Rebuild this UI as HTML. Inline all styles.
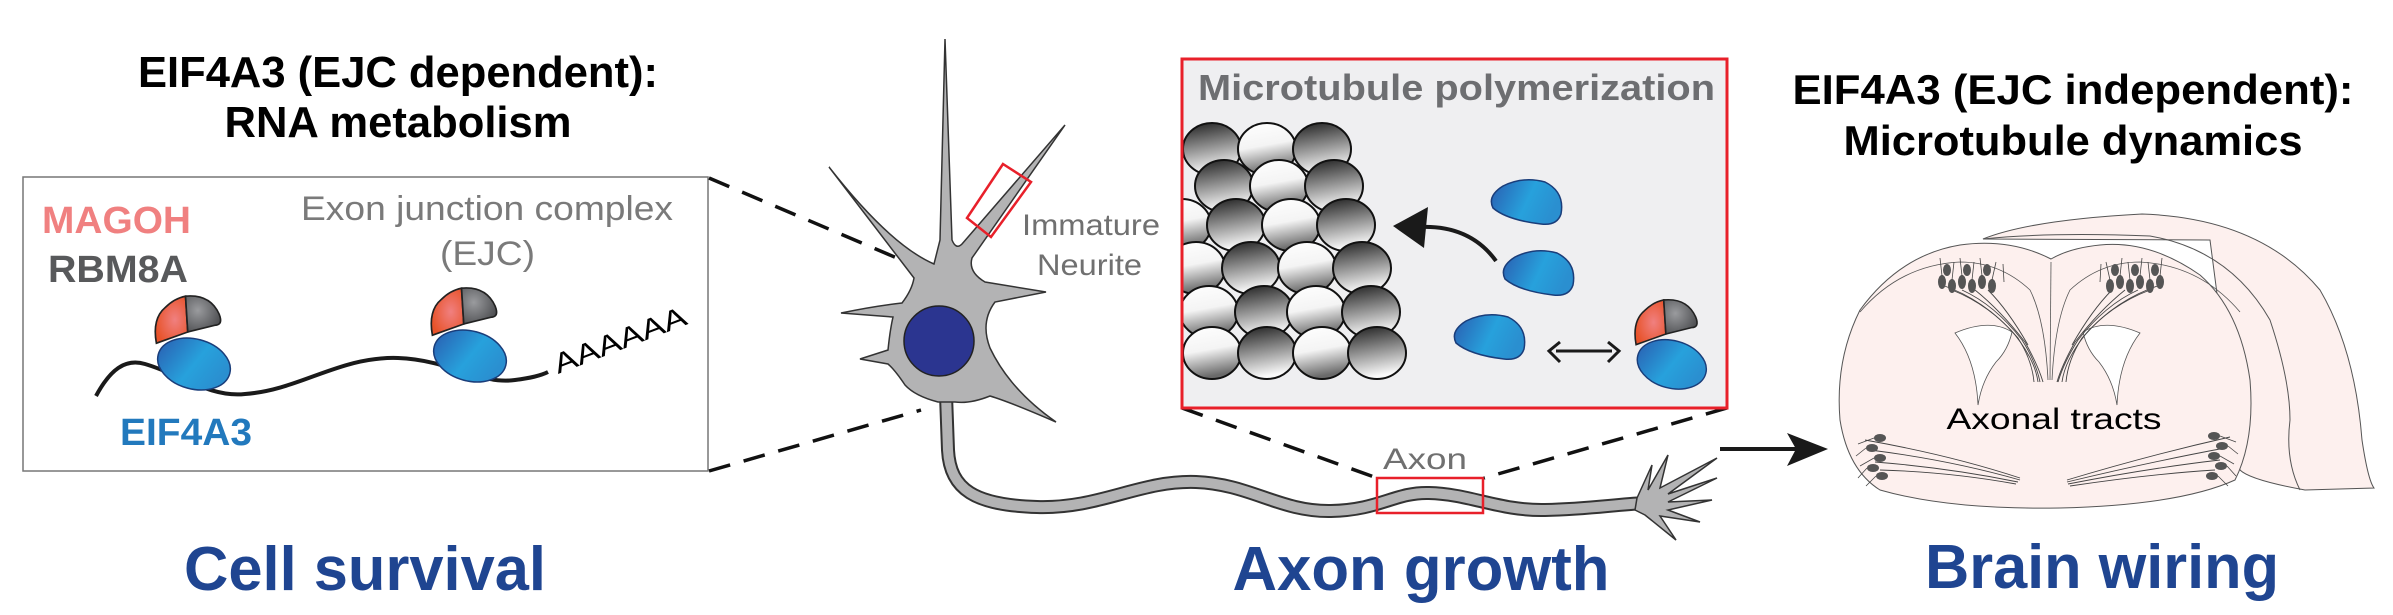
<!DOCTYPE html>
<html><head><meta charset="utf-8"><style>html,body{margin:0;padding:0;background:#fff}svg{display:block}text{font-family:"Liberation Sans",sans-serif}</style></head>
<body>
<svg width="2393" height="615" viewBox="0 0 2393 615" xmlns="http://www.w3.org/2000/svg">
<defs>
<linearGradient id="blue" x1="0" y1="0" x2="1" y2="0.3"><stop offset="0" stop-color="#2a5db0"/><stop offset="0.6" stop-color="#27a1dc"/><stop offset="1" stop-color="#2a8fd0"/></linearGradient>
<radialGradient id="grey" cx="0.35" cy="0.4" r="0.7"><stop offset="0" stop-color="#9a9b9e"/><stop offset="1" stop-color="#4d4e51"/></radialGradient>
<radialGradient id="orng" cx="0.6" cy="0.5" r="0.6"><stop offset="0" stop-color="#f08080"/><stop offset="1" stop-color="#e8532a"/></radialGradient>
<linearGradient id="sd" x1="0" y1="0" x2="0.2" y2="1"><stop offset="0" stop-color="#1d1d1d"/><stop offset="1" stop-color="#fafafa"/></linearGradient>
<linearGradient id="sl" x1="0" y1="0" x2="0.2" y2="1"><stop offset="0" stop-color="#ffffff"/><stop offset="0.5" stop-color="#f4f4f4"/><stop offset="1" stop-color="#6a6a6a"/></linearGradient>
<clipPath id="mtclip"><rect x="1182" y="59" width="545" height="349"/></clipPath>
<g id="ejc">
 <ellipse cx="4" cy="32" rx="37" ry="25" fill="url(#blue)" stroke="#1a3d7a" stroke-width="1.5" transform="rotate(15 4 32)"/>
 <g transform="scale(1.12)">
 <path d="M -2,0 L -30,10 Q -34,-12 -22,-22 Q -14,-30 -4,-32 Z" fill="url(#orng)" stroke="#222" stroke-width="1.5"/>
 <path d="M -2,0 L -4,-32 Q 18,-34 26,-16 Q 30,-6 22,-6 Z" fill="url(#grey)" stroke="#222" stroke-width="1.5"/>
 </g>
</g>
<path id="mono" d="M -34,6 Q -40,-6 -24,-16 Q -4,-26 18,-20 Q 38,-10 34,12 Q 30,24 14,22 Q -20,18 -34,6 Z" fill="url(#blue)" stroke="#1a3d7a" stroke-width="1.5"/>
</defs>

<text x="398" y="87" text-anchor="middle" font-size="44" font-weight="bold" textLength="520" lengthAdjust="spacingAndGlyphs">EIF4A3 (EJC dependent):</text>
<text x="398" y="137" text-anchor="middle" font-size="44" font-weight="bold" textLength="347" lengthAdjust="spacingAndGlyphs">RNA metabolism</text>

<rect x="23" y="177" width="685" height="294" fill="#fff" stroke="#777" stroke-width="1.5"/>
<text x="42" y="233" font-size="38" font-weight="bold" fill="#f08080" textLength="149" lengthAdjust="spacingAndGlyphs">MAGOH</text>
<text x="48" y="282" font-size="38" font-weight="bold" fill="#58595b" textLength="140" lengthAdjust="spacingAndGlyphs">RBM8A</text>
<text x="120" y="445" font-size="38" font-weight="bold" fill="#2279bd" textLength="132" lengthAdjust="spacingAndGlyphs">EIF4A3</text>
<text x="301" y="220" font-size="34" fill="#7a7a7a" textLength="372" lengthAdjust="spacingAndGlyphs">Exon junction complex</text>
<text x="440" y="265" font-size="34" fill="#7a7a7a" textLength="95" lengthAdjust="spacingAndGlyphs">(EJC)</text>
<path d="M 96,396 C 110,370 125,358 145,364 C 180,374 210,398 245,394 C 300,390 340,356 398,358 C 450,360 480,385 515,380 C 530,378 540,376 548,372" fill="none" stroke="#1a1a1a" stroke-width="4"/>
<use href="#ejc" transform="translate(190,332)"/>
<use href="#ejc" transform="translate(466,324)"/>
<text x="0" y="0" font-size="28" transform="translate(558,374) rotate(-21)" textLength="140" lengthAdjust="spacingAndGlyphs">AAAAAA</text>
<text x="365" y="590" text-anchor="middle" font-size="62" font-weight="bold" fill="#1f4591" textLength="362" lengthAdjust="spacingAndGlyphs">Cell survival</text>

<line x1="709" y1="178" x2="918" y2="267" stroke="#111" stroke-width="3.5" stroke-dasharray="22,14"/>
<line x1="709" y1="471" x2="921" y2="410" stroke="#111" stroke-width="3.5" stroke-dasharray="22,14"/>

<path d="M 946,395 L 948,450 C 950,490 975,505 1037,507 C 1100,509 1140,480 1196,482 C 1250,484 1280,512 1331,511 C 1380,510 1395,492 1429,493 C 1470,494 1500,511 1545,510 C 1590,509 1610,505 1645,503" fill="none" stroke="#333" stroke-width="14"/>
<path d="M 946,395 L 948,450 C 950,490 975,505 1037,507 C 1100,509 1140,480 1196,482 C 1250,484 1280,512 1331,511 C 1380,510 1395,492 1429,493 C 1470,494 1500,511 1545,510 C 1590,509 1610,505 1645,503" fill="none" stroke="#b3b3b4" stroke-width="10"/>
<path d="M 1637,498 L 1652,465 L 1648,490 L 1668,455 L 1660,488 L 1717,458 L 1668,494 L 1717,478 L 1668,502 L 1712,500 L 1668,510 L 1700,522 L 1660,516 L 1676,540 L 1645,515 L 1635,510 Z" fill="#b3b3b4" stroke="#333" stroke-width="1.5"/>
<path d="M 945,39 L 952,240 Q 956,250 962,244 L 1065,125 L 972,258 Q 968,272 985,282 L 1046,292 L 995,302 Q 980,322 990,348 Q 1010,390 1056,422 Q 1010,402 990,396 Q 970,404 955,402 L 938,402 Q 915,396 905,385 Q 895,370 888,364 L 860,359 L 888,350 Q 890,330 893,317 L 841,313 Q 875,306 902,303 Q 912,290 914,278 L 829,167 Q 890,245 934,264 L 940,240 Z" fill="#b3b3b4" stroke="#333" stroke-width="1.5"/>
<circle cx="939" cy="341" r="35" fill="#2b3590" stroke="#222" stroke-width="1.5"/>
<polygon points="1003,164 1031,182 991,237 967,218" fill="none" stroke="#e8202a" stroke-width="2.5"/>
<text x="1022" y="235" font-size="30" fill="#707070" textLength="138" lengthAdjust="spacingAndGlyphs">Immature</text>
<text x="1037" y="275" font-size="30" fill="#707070" textLength="105" lengthAdjust="spacingAndGlyphs">Neurite</text>
<rect x="1377" y="478" width="106" height="35" fill="none" stroke="#e8202a" stroke-width="2.5"/>
<text x="1383" y="469" font-size="30" fill="#707070" textLength="84" lengthAdjust="spacingAndGlyphs">Axon</text>
<text x="1421" y="590" text-anchor="middle" font-size="62" font-weight="bold" fill="#1f4591" textLength="377" lengthAdjust="spacingAndGlyphs">Axon growth</text>

<line x1="1182" y1="408" x2="1377" y2="478" stroke="#111" stroke-width="3.5" stroke-dasharray="22,14"/>
<line x1="1727" y1="408" x2="1484" y2="478" stroke="#111" stroke-width="3.5" stroke-dasharray="22,14"/>

<rect x="1182" y="59" width="545" height="349" fill="#efeff1"/>
<g clip-path="url(#mtclip)" stroke="#111" stroke-width="2">
 <ellipse cx="1212" cy="149" rx="29" ry="26" fill="url(#sd)"/><ellipse cx="1267" cy="149" rx="29" ry="26" fill="url(#sl)"/><ellipse cx="1322" cy="149" rx="29" ry="26" fill="url(#sd)"/>
 <ellipse cx="1224" cy="186" rx="29" ry="26" fill="url(#sd)"/><ellipse cx="1279" cy="186" rx="29" ry="26" fill="url(#sl)"/><ellipse cx="1334" cy="186" rx="29" ry="26" fill="url(#sd)"/>
 <ellipse cx="1182" cy="225" rx="29" ry="26" fill="url(#sl)"/><ellipse cx="1236" cy="225" rx="29" ry="26" fill="url(#sd)"/><ellipse cx="1291" cy="225" rx="29" ry="26" fill="url(#sl)"/><ellipse cx="1346" cy="225" rx="29" ry="26" fill="url(#sd)"/>
 <ellipse cx="1196" cy="268" rx="29" ry="26" fill="url(#sl)"/><ellipse cx="1251" cy="268" rx="29" ry="26" fill="url(#sd)"/><ellipse cx="1307" cy="268" rx="29" ry="26" fill="url(#sl)"/><ellipse cx="1362" cy="268" rx="29" ry="26" fill="url(#sd)"/>
 <ellipse cx="1209" cy="312" rx="29" ry="26" fill="url(#sl)"/><ellipse cx="1264" cy="312" rx="29" ry="26" fill="url(#sd)"/><ellipse cx="1316" cy="312" rx="29" ry="26" fill="url(#sl)"/><ellipse cx="1371" cy="312" rx="29" ry="26" fill="url(#sd)"/>
 <ellipse cx="1212" cy="353" rx="29" ry="26" fill="url(#sl)"/><ellipse cx="1267" cy="353" rx="29" ry="26" fill="url(#sd)"/><ellipse cx="1322" cy="353" rx="29" ry="26" fill="url(#sl)"/><ellipse cx="1377" cy="353" rx="29" ry="26" fill="url(#sd)"/>
</g>
<rect x="1182" y="59" width="545" height="349" fill="none" stroke="#e8202a" stroke-width="3"/>
<text x="1198" y="100" font-size="36" font-weight="bold" fill="#6d6e71" textLength="517" lengthAdjust="spacingAndGlyphs">Microtubule polymerization</text>
<use href="#mono" transform="translate(1527,202)"/>
<use href="#mono" transform="translate(1539,273)"/>
<use href="#mono" transform="translate(1490,337)"/>
<use href="#ejc" transform="translate(1668,334) scale(0.95)"/>
<path d="M 1496,261 Q 1470,225 1420,227" fill="none" stroke="#1a1a1a" stroke-width="4"/>
<polygon points="1393,226 1428,207 1424,248" fill="#1a1a1a"/>
<line x1="1556" y1="351" x2="1612" y2="351" stroke="#1a1a1a" stroke-width="3"/>
<polyline points="1560,342 1549,351 1560,362" fill="none" stroke="#1a1a1a" stroke-width="3"/>
<polyline points="1608,342 1619,351 1608,362" fill="none" stroke="#1a1a1a" stroke-width="3"/>

<line x1="1720" y1="449" x2="1800" y2="449" stroke="#1a1a1a" stroke-width="4"/>
<polygon points="1828,449 1787,433 1796,449 1787,466" fill="#1a1a1a"/>

<text x="2073" y="104" text-anchor="middle" font-size="42" font-weight="bold" textLength="561" lengthAdjust="spacingAndGlyphs">EIF4A3 (EJC independent):</text>
<text x="2073" y="155" text-anchor="middle" font-size="42" font-weight="bold" textLength="459" lengthAdjust="spacingAndGlyphs">Microtubule dynamics</text>

<path d="M 1983,239 Q 2030,220 2142,214 Q 2260,218 2320,290 Q 2355,350 2362,440 Q 2368,480 2374,488 L 2305,490 Q 2250,480 2240,470 L 2210,240 Z" fill="#fdf0ee" stroke="#555" stroke-width="1"/>
<path d="M 1983,239 Q 2050,232 2150,236 Q 2230,250 2270,320 Q 2290,380 2290,420 Q 2285,460 2300,490" fill="none" stroke="#555" stroke-width="1"/>
<path d="M 2051,259 Q 2010,238 1960,245 Q 1900,255 1860,310 Q 1835,360 1840,420 Q 1848,470 1880,490 Q 1950,510 2060,508 Q 2180,505 2235,480 Q 2255,440 2250,380 Q 2240,310 2200,275 Q 2150,240 2100,245 Q 2070,248 2051,259 Z" fill="#fdf0ee" stroke="#555" stroke-width="1"/>
<path d="M 1860,312 Q 1900,265 1960,262 Q 2000,262 2030,290 Q 2045,320 2048,380" fill="none" stroke="#555" stroke-width="0.8"/>
<path d="M 2240,312 Q 2200,265 2140,262 Q 2100,262 2070,290 Q 2055,320 2052,380" fill="none" stroke="#555" stroke-width="0.8"/>
<line x1="2051" y1="262" x2="2050" y2="380" stroke="#555" stroke-width="0.8"/>
<path d="M 1955,333 Q 1990,318 2012,332 Q 2008,350 1996,362 Q 1982,380 1978,405 Q 1976,360 1955,333 Z" fill="#fff" stroke="#555" stroke-width="0.8"/>
<path d="M 2140,333 Q 2105,318 2083,332 Q 2087,350 2099,362 Q 2113,380 2117,405 Q 2119,360 2140,333 Z" fill="#fff" stroke="#555" stroke-width="0.8"/>
<g stroke="#444" stroke-width="0.9" fill="none">
 <path d="M 1942,285 Q 1985,300 2015,335 Q 2035,360 2038,382"/><path d="M 1952,290 Q 1990,305 2018,338 Q 2032,360 2034,382"/><path d="M 1962,290 Q 1995,305 2022,340 Q 2036,362 2040,382"/><path d="M 1975,290 Q 2000,310 2025,342 Q 2038,365 2043,382"/><path d="M 1988,290 Q 2008,310 2028,345"/>
 <path d="M 2160,285 Q 2115,300 2085,335 Q 2065,360 2062,382"/><path d="M 2150,290 Q 2110,305 2082,338 Q 2068,360 2066,382"/><path d="M 2138,290 Q 2105,305 2078,340 Q 2064,362 2058,382"/><path d="M 2125,290 Q 2100,310 2075,342 Q 2062,365 2057,382"/><path d="M 2112,290 Q 2092,310 2072,345"/>
 <path d="M 1865,440 Q 1950,455 2020,478"/><path d="M 1870,450 Q 1950,460 2020,480"/><path d="M 1875,462 Q 1950,468 2018,482"/><path d="M 1880,470 Q 1950,472 2016,484"/>
 <path d="M 2230,437 Q 2150,455 2067,480"/><path d="M 2225,448 Q 2150,462 2067,482"/><path d="M 2220,460 Q 2150,468 2068,484"/><path d="M 2215,470 Q 2150,474 2070,486"/>
</g>
<g fill="#555">
 <ellipse cx="1942" cy="282" rx="4" ry="7"/><ellipse cx="1952" cy="286" rx="4" ry="7"/><ellipse cx="1962" cy="282" rx="4" ry="7"/><ellipse cx="1972" cy="286" rx="4" ry="7"/><ellipse cx="1982" cy="282" rx="4" ry="7"/><ellipse cx="1992" cy="286" rx="4" ry="7"/><ellipse cx="1947" cy="270" rx="4" ry="6"/><ellipse cx="1967" cy="270" rx="4" ry="6"/><ellipse cx="1987" cy="270" rx="4" ry="6"/>
 <ellipse cx="2160" cy="282" rx="4" ry="7"/><ellipse cx="2150" cy="286" rx="4" ry="7"/><ellipse cx="2140" cy="282" rx="4" ry="7"/><ellipse cx="2130" cy="286" rx="4" ry="7"/><ellipse cx="2120" cy="282" rx="4" ry="7"/><ellipse cx="2110" cy="286" rx="4" ry="7"/><ellipse cx="2155" cy="270" rx="4" ry="6"/><ellipse cx="2135" cy="270" rx="4" ry="6"/><ellipse cx="2115" cy="270" rx="4" ry="6"/>
 <ellipse cx="1880" cy="438" rx="6" ry="4"/><ellipse cx="1872" cy="448" rx="6" ry="4"/><ellipse cx="1880" cy="458" rx="6" ry="4"/><ellipse cx="1873" cy="468" rx="6" ry="4"/><ellipse cx="1882" cy="476" rx="6" ry="4"/>
 <ellipse cx="2214" cy="436" rx="6" ry="4"/><ellipse cx="2222" cy="446" rx="6" ry="4"/><ellipse cx="2214" cy="456" rx="6" ry="4"/><ellipse cx="2221" cy="466" rx="6" ry="4"/><ellipse cx="2212" cy="476" rx="6" ry="4"/>
</g>
<g stroke="#444" stroke-width="0.8">
 <line x1="1942" y1="276" x2="1940" y2="258"/><line x1="1952" y1="280" x2="1954" y2="262"/><line x1="1962" y1="276" x2="1960" y2="258"/><line x1="1972" y1="280" x2="1974" y2="262"/><line x1="1982" y1="276" x2="1980" y2="258"/><line x1="1992" y1="280" x2="1996" y2="262"/><line x1="2004" y1="282" x2="2003" y2="264"/>
 <line x1="2160" y1="276" x2="2162" y2="258"/><line x1="2150" y1="280" x2="2148" y2="262"/><line x1="2140" y1="276" x2="2142" y2="258"/><line x1="2130" y1="280" x2="2128" y2="262"/><line x1="2120" y1="276" x2="2122" y2="258"/><line x1="2110" y1="280" x2="2106" y2="262"/><line x1="2100" y1="282" x2="2101" y2="264"/>
 <line x1="1874" y1="438" x2="1858" y2="444"/><line x1="1866" y1="448" x2="1856" y2="456"/><line x1="1874" y1="458" x2="1860" y2="466"/><line x1="1867" y1="468" x2="1858" y2="478"/><line x1="1876" y1="476" x2="1866" y2="486"/>
 <line x1="2220" y1="436" x2="2236" y2="442"/><line x1="2228" y1="446" x2="2238" y2="454"/><line x1="2220" y1="456" x2="2234" y2="464"/><line x1="2227" y1="466" x2="2236" y2="476"/><line x1="2218" y1="476" x2="2228" y2="486"/>
</g>
<text x="2054" y="429" text-anchor="middle" font-size="30" textLength="215" lengthAdjust="spacingAndGlyphs">Axonal tracts</text>
<text x="2102" y="588" text-anchor="middle" font-size="62" font-weight="bold" fill="#1f4591" textLength="354" lengthAdjust="spacingAndGlyphs">Brain wiring</text>
</svg>
</body></html>
